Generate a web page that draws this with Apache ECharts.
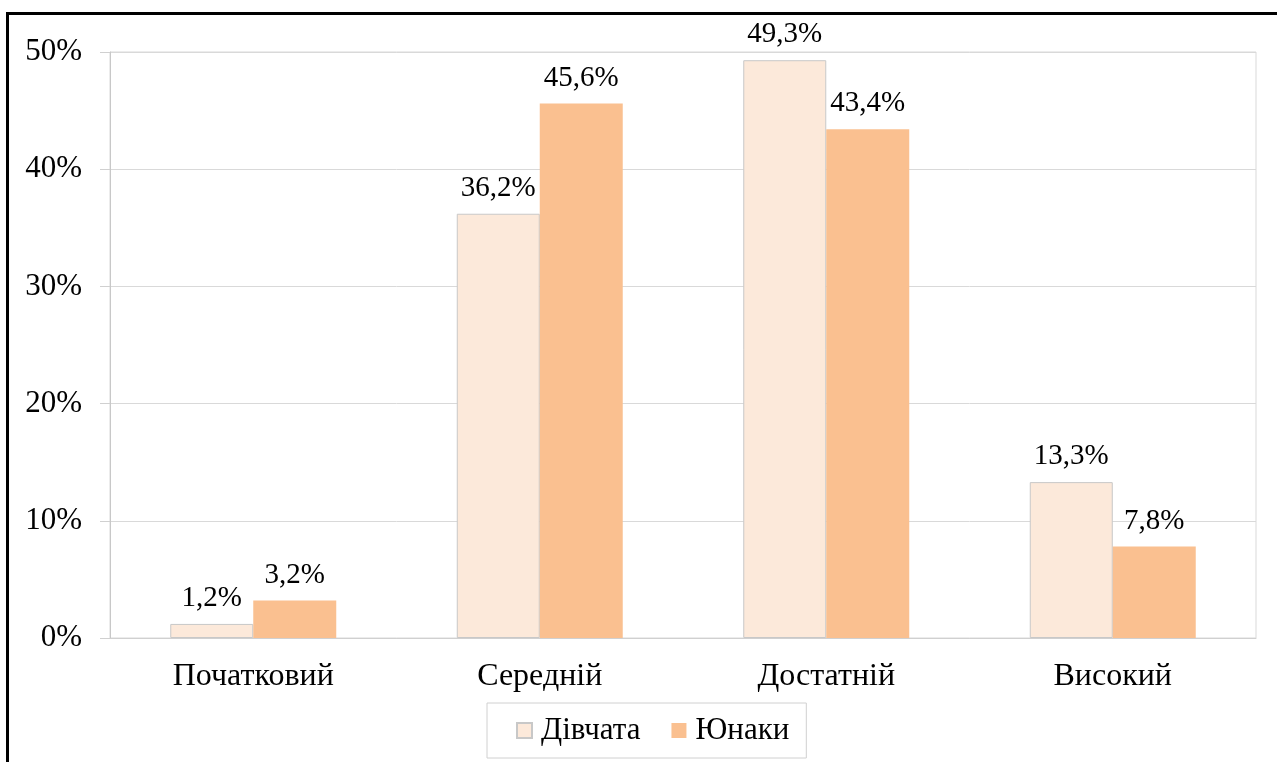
<!DOCTYPE html>
<html>
<head>
<meta charset="utf-8">
<script src="https://cdn.jsdelivr.net/npm/echarts@6/dist/echarts.min.js"></script>
<style>
  html, body { margin: 0; padding: 0; background: #fff; width: 1277px; height: 762px; overflow: hidden; }
  #frame { position: absolute; left: 6px; top: 12px; width: 1400px; height: 900px; border-left: 3px solid #000; border-top: 3px solid #000; }
  #chart { position: absolute; left: 0; top: 0; width: 1277px; height: 762px; }
</style>
</head>
<body>
<div id="frame"></div>
<div id="chart"></div>
<script>
const categories = ['Початковий', 'Середній', 'Достатній', 'Високий'];
const girls = [1.2, 36.2, 49.3, 13.3];
const boys = [3.2, 45.6, 43.4, 7.8];
const seriesNames = ['Дівчата', 'Юнаки'];
const yTicks = { min: 0, max: 50, interval: 10 };

const serif = '"Liberation Serif", "Times New Roman", serif';
const fmt = v => String(v.toFixed(1)).replace('.', ',') + '%';

const chart = echarts.init(document.getElementById('chart'), null, { renderer: 'canvas' });
chart.setOption({
  animation: false,
  grid: { left: 110, right: 21, top: 52, bottom: 124, show: true, borderColor: '#D9D9D9', borderWidth: 1, containLabel: false },
  legend: {
    data: seriesNames,
    left: 487, top: 703,
    padding: [12, 17, 12, 29],
    borderColor: '#D0D0D0', borderWidth: 1,
    itemWidth: 15, itemHeight: 15, itemGap: 31,
    icon: 'rect',
    textStyle: { fontFamily: serif, fontSize: 31, color: '#000', padding: [0, 0, 0, 4] }
  },
  xAxis: {
    type: 'category',
    data: categories,
    axisLine: { lineStyle: { color: '#D0D0D0', width: 1 } },
    axisTick: { show: false },
    axisLabel: { fontFamily: serif, fontSize: 32, color: '#000', margin: 23 }
  },
  yAxis: {
    type: 'value',
    min: yTicks.min, max: yTicks.max, interval: yTicks.interval,
    axisLine: { show: true, lineStyle: { color: '#C8C8C8', width: 1 } },
    axisTick: { show: true, length: 10, lineStyle: { color: '#D0D0D0' } },
    splitLine: { lineStyle: { color: '#D9D9D9', width: 1 } },
    axisLabel: { fontFamily: serif, fontSize: 31, color: '#000', margin: 28, formatter: '{value}%' }
  },
  series: [
    {
      name: seriesNames[0], type: 'bar', data: girls,
      barWidth: 83, barGap: '0%',
      itemStyle: { color: '#FCE9DA', borderColor: '#C8C8C8', borderWidth: 1 },
      label: { show: true, position: 'top', distance: 11, fontFamily: serif, fontSize: 29, color: '#000', formatter: p => fmt(p.value) }
    },
    {
      name: seriesNames[1], type: 'bar', data: boys,
      barWidth: 83, barGap: '0%',
      itemStyle: { color: '#FAC090' },
      label: { show: true, position: 'top', distance: 11, fontFamily: serif, fontSize: 29, color: '#000', formatter: p => fmt(p.value) }
    }
  ]
});
</script>
</body>
</html>
